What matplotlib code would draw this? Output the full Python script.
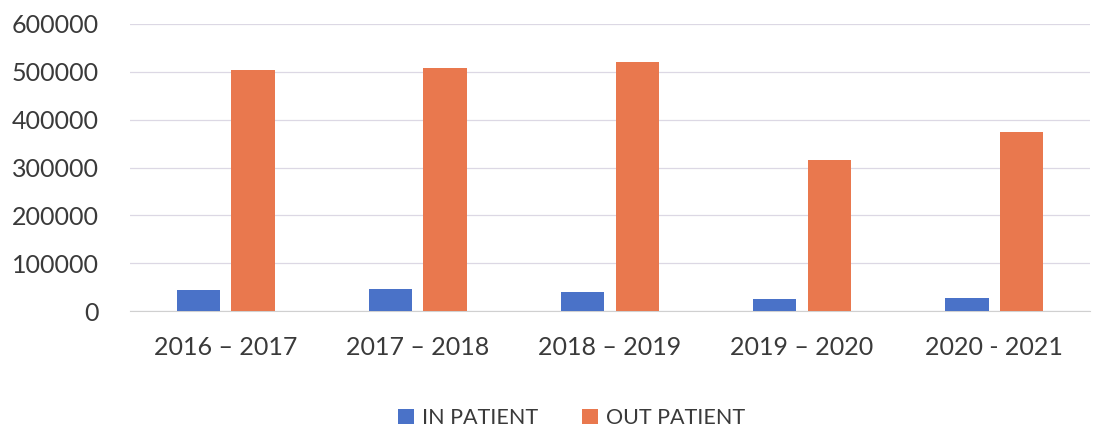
import matplotlib.pyplot as plt
import numpy as np

plt.rcParams['font.family'] = ['Lato', 'DejaVu Sans']

years = ["2016 – 2017", "2017 – 2018", "2018 – 2019", "2019 – 2020", "2020 - 2021"]
in_patient = [45000, 46000, 39000, 25000, 28000]
out_patient = [504000, 508000, 521000, 315000, 374000]

BLUE = "#4a72c8"
ORANGE = "#e9784e"
TEXT = "#3a3a3a"

fig = plt.figure(figsize=(10.98, 4.28), dpi=100)
ax = fig.add_axes([0.118, 0.273, 0.875, 0.671])

x = np.arange(len(years))
w = 0.225
ax.bar(x - 0.142, in_patient, w, color=BLUE, label="IN PATIENT", zorder=3)
ax.bar(x + 0.142, out_patient, w, color=ORANGE, label="OUT PATIENT", zorder=3)

ax.set_xlim(-0.5, len(years) - 0.5)
ax.set_ylim(0, 600000)
ax.set_yticks(range(0, 600001, 100000))
ax.set_yticklabels([str(v) for v in range(0, 600001, 100000)])
ax.set_xticks(x)
ax.set_xticklabels(years)
ax.grid(axis="y", color="#dcd8e4", linewidth=0.9, zorder=0)

for s in ("top", "right", "left"):
    ax.spines[s].set_visible(False)
ax.spines["bottom"].set_color("#d0d0d0")
ax.tick_params(axis="both", length=0, colors=TEXT, labelsize=18)
ax.tick_params(axis="y", pad=22)
ax.tick_params(axis="x", pad=18)

ax.legend(loc="upper center", bbox_to_anchor=(0.46, -0.27), ncol=2, frameon=False,
          fontsize=15.5, handlelength=0.75, handleheight=0.75, columnspacing=2.0,
          handletextpad=0.4, labelcolor=TEXT)

fig.savefig("out.png", dpi=100)
